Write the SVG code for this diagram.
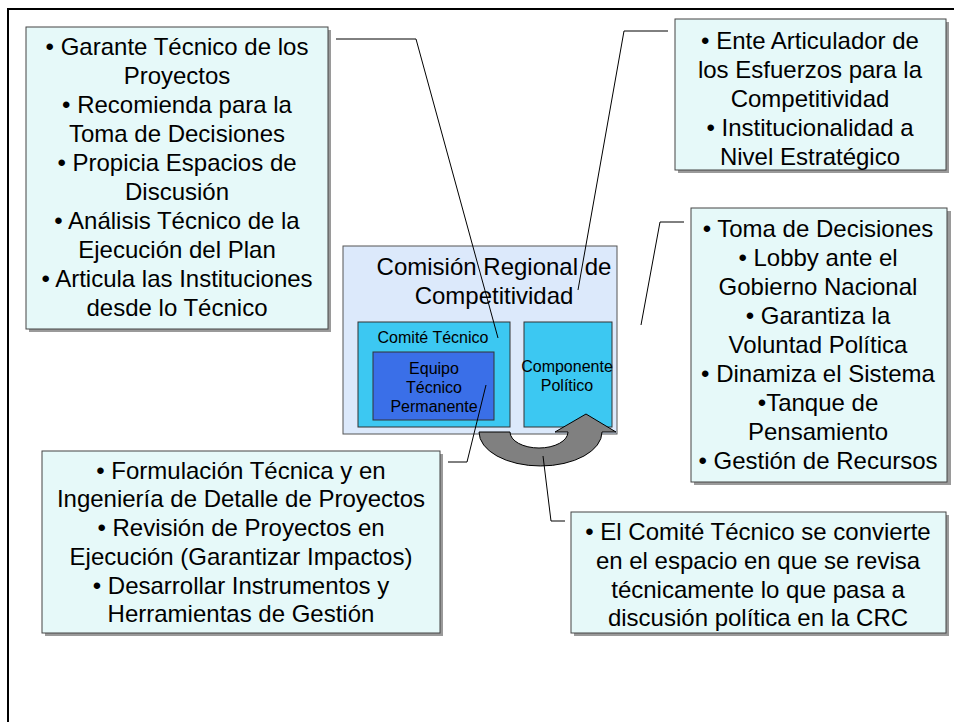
<svg xmlns="http://www.w3.org/2000/svg" width="954" height="722" viewBox="0 0 954 722">
<style>
.note{fill:#E6F9F9;stroke:#444;stroke-width:1}
.shadow{fill:#9a9a9a}
.t{font-family:"Liberation Sans",Arial,sans-serif;font-size:24px;fill:#000;text-anchor:middle}
.s{font-family:"Liberation Sans",Arial,sans-serif;font-size:16px;fill:#000;text-anchor:middle}
.conn{fill:none;stroke:#000;stroke-width:1}
</style>
<rect width="954" height="722" fill="#fff"/>
<path d="M8,722 L8,9 L954,9" fill="none" stroke="#000" stroke-width="2"/>

<g id="crc">
<rect x="343" y="246" width="274" height="188" fill="#DCE9FB" stroke="#555" stroke-width="1"/>
<text class="t" x="494" y="275">Comisión Regional de</text>
<text class="t" x="494" y="304">Competitividad</text>
</g>
<g id="comite-tecnico">
<rect x="358" y="322" width="152" height="105" fill="#3CC8F2" stroke="#333" stroke-width="1"/>
<text class="s" x="433" y="343">Comité Técnico</text>
</g>
<g id="equipo-tecnico">
<rect x="373" y="352" width="121" height="68" fill="#3A6FE8" stroke="#333" stroke-width="1"/>
<text class="s" x="434" y="374">Equipo</text>
<text class="s" x="434" y="393">Técnico</text>
<text class="s" x="434" y="412">Permanente</text>
</g>
<g id="componente-politico">
<rect x="524" y="322" width="88" height="105" fill="#3CC8F2" stroke="#333" stroke-width="1"/>
<text class="s" x="567" y="372">Componente</text>
<text class="s" x="567" y="391">Político</text>
</g>
<g id="ciclo-arrow">
<path d="M479,432 A61.5,34 0 0 0 602,432 L616,432 L586,414 L555,432 L568,432 A29,16 0 0 1 510,432 Z" fill="#808080" stroke="#000" stroke-width="1"/>
</g>

<g id="nota-comite">
<rect class="shadow" x="29" y="30" width="302" height="302"/>
<rect class="note" x="26" y="27" width="302" height="302"/>
<text class="t" x="177" y="55">• Garante Técnico de los</text>
<text class="t" x="177" y="84">Proyectos</text>
<text class="t" x="177" y="113">• Recomienda para la</text>
<text class="t" x="177" y="142">Toma de Decisiones</text>
<text class="t" x="177" y="171">• Propicia Espacios de</text>
<text class="t" x="177" y="200">Discusión</text>
<text class="t" x="177" y="229">• Análisis Técnico de la</text>
<text class="t" x="177" y="258">Ejecución del Plan</text>
<text class="t" x="177" y="287">• Articula las Instituciones</text>
<text class="t" x="177" y="316">desde lo Técnico</text>
</g>
<g id="nota-crc">
<rect class="shadow" x="678" y="22" width="271" height="151"/>
<rect class="note" x="675" y="19" width="271" height="151"/>
<text class="t" x="810" y="49">• Ente Articulador de</text>
<text class="t" x="810" y="78">los Esfuerzos para la</text>
<text class="t" x="810" y="107">Competitividad</text>
<text class="t" x="810" y="136">• Institucionalidad a</text>
<text class="t" x="810" y="165">Nivel Estratégico</text>
</g>
<g id="nota-politico">
<rect class="shadow" x="694" y="211" width="257" height="274"/>
<rect class="note" x="691" y="208" width="256" height="274"/>
<text class="t" x="818" y="237">• Toma de Decisiones</text>
<text class="t" x="818" y="266">• Lobby ante el</text>
<text class="t" x="818" y="295">Gobierno Nacional</text>
<text class="t" x="818" y="324">• Garantiza la</text>
<text class="t" x="818" y="353">Voluntad Política</text>
<text class="t" x="818" y="382">• Dinamiza el Sistema</text>
<text class="t" x="818" y="411">•Tanque de</text>
<text class="t" x="818" y="440">Pensamiento</text>
<text class="t" x="818" y="469">• Gestión de Recursos</text>
</g>
<g id="nota-equipo">
<rect class="shadow" x="45" y="454" width="398" height="182"/>
<rect class="note" x="42" y="451" width="398" height="182"/>
<text class="t" x="241" y="479">• Formulación Técnica y en</text>
<text class="t" x="241" y="507">Ingeniería de Detalle de Proyectos</text>
<text class="t" x="241" y="536">• Revisión de Proyectos en</text>
<text class="t" x="241" y="565">Ejecución (Garantizar Impactos)</text>
<text class="t" x="241" y="594">• Desarrollar Instrumentos y</text>
<text class="t" x="241" y="622">Herramientas de Gestión</text>
</g>
<g id="nota-ciclo">
<rect class="shadow" x="574" y="515" width="375" height="121"/>
<rect class="note" x="571" y="512" width="375" height="121"/>
<text class="t" x="758" y="540">• El Comité Técnico se convierte</text>
<text class="t" x="758" y="569">en el espacio en que se revisa</text>
<text class="t" x="758" y="598">técnicamente lo que pasa a</text>
<text class="t" x="758" y="626">discusión política en la CRC</text>
</g>

<g id="connectors">
<polyline class="conn" points="336,39 416,39 498,338"/>
<polyline class="conn" points="668,31 624,31 578,290"/>
<polyline class="conn" points="684,222 660,222 641,325"/>
<polyline class="conn" points="448,462 467,462 486,385"/>
<polyline class="conn" points="565,521 551,521 543,456"/>
</g>
</svg>
